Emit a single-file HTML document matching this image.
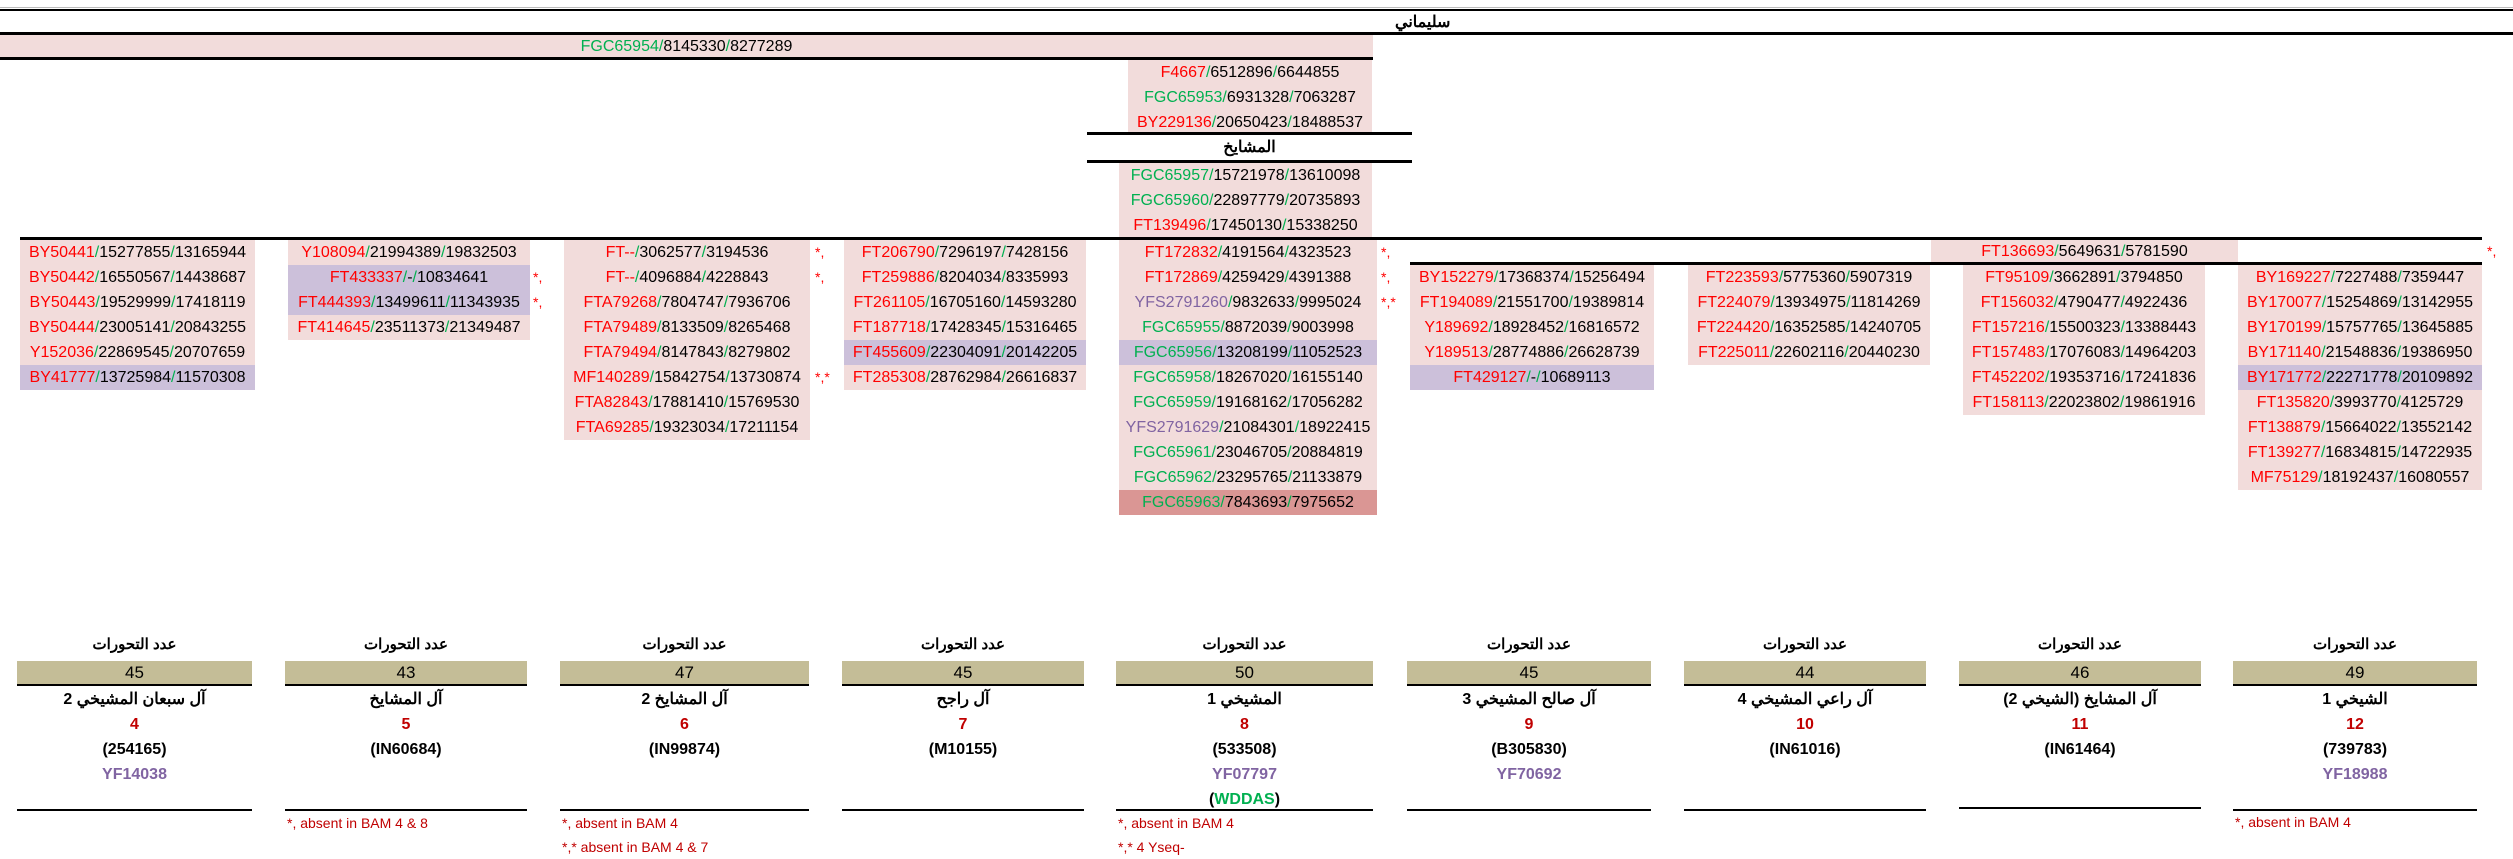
<!DOCTYPE html>
<html><head><meta charset="utf-8">
<style>
*{margin:0;padding:0;box-sizing:border-box}
body{width:2513px;height:859px;background:#fff;position:relative;overflow:hidden;font-family:"Liberation Sans","Noto Sans CJK SC",sans-serif;font-size:16px;color:#000}
.a{position:absolute}
.c{position:absolute;height:25px;line-height:25px;text-align:center;white-space:nowrap;background:#f2dcdb}
.l{background:#ccc0da}
.d{background:#da9694}
.r{color:#ff0000}.g{color:#00b050}.p{color:#8064a2}
.ln{position:absolute;background:#000}
.st{position:absolute;color:#ff0000;font-size:14px;line-height:25px;height:25px}
.lab{position:absolute;text-align:center;font-size:15px;font-weight:bold;line-height:20px;font-family:"Liberation Sans","Noto Sans CJK SC",sans-serif}
.band{position:absolute;height:25px;background:#c4bd97;border-bottom:2px solid #000;text-align:center;line-height:24px;font-size:17px}
.nm{position:absolute;text-align:center;font-weight:bold;font-size:16px;line-height:22px}
.fn{position:absolute;color:#c00000;font-size:14px;line-height:18px;white-space:nowrap}
</style></head><body>
<!-- top -->
<div class="ln" style="left:0;top:7px;width:2513px;height:1px;background:#bbb"></div>
<div class="ln" style="left:0;top:9px;width:2513px;height:2px"></div>
<div class="a" style="left:1395px;top:12px;font-size:16px;font-weight:bold" dir="rtl">سليماني</div>
<div class="ln" style="left:0;top:32px;width:2513px;height:3px"></div>
<div class="c" style="left:0;top:35px;width:1373px;height:23px;line-height:23px"><span class="g">FGC65954/</span>8145330<span class="g">/</span>8277289</div>
<div class="ln" style="left:0;top:57px;width:1373px;height:3px"></div>

<div class="c" style="left:1128px;top:60px;width:244px"><span class="r">F4667</span><span class="g">/</span>6512896<span class="g">/</span>6644855</div>
<div class="c" style="left:1128px;top:85px;width:244px"><span class="g">FGC65953/</span>6931328<span class="g">/</span>7063287</div>
<div class="c" style="left:1128px;top:110px;width:244px;height:23px"><span class="r">BY229136</span><span class="g">/</span>20650423<span class="g">/</span>18488537</div>
<div class="ln" style="left:1087px;top:132px;width:325px;height:3px"></div>
<div class="a" style="left:1087px;top:137px;width:325px;text-align:center;font-weight:bold;font-size:16px" dir="rtl">المشايخ</div>
<div class="ln" style="left:1087px;top:160px;width:325px;height:3px"></div>
<div class="c" style="left:1119px;top:163px;width:253px"><span class="g">FGC65957/</span>15721978<span class="g">/</span>13610098</div>
<div class="c" style="left:1119px;top:188px;width:253px"><span class="g">FGC65960/</span>22897779<span class="g">/</span>20735893</div>
<div class="c" style="left:1119px;top:213px;width:253px"><span class="r">FT139496</span><span class="g">/</span>17450130<span class="g">/</span>15338250</div>
<div class="ln" style="left:20px;top:237px;width:2462px;height:3px"></div>

<!-- col1 -->
<div class="c" style="left:20px;top:240px;width:235px"><span class="r">BY50441</span><span class="g">/</span>15277855<span class="g">/</span>13165944</div>
<div class="c" style="left:20px;top:265px;width:235px"><span class="r">BY50442</span><span class="g">/</span>16550567<span class="g">/</span>14438687</div>
<div class="c" style="left:20px;top:290px;width:235px"><span class="r">BY50443</span><span class="g">/</span>19529999<span class="g">/</span>17418119</div>
<div class="c" style="left:20px;top:315px;width:235px"><span class="r">BY50444</span><span class="g">/</span>23005141<span class="g">/</span>20843255</div>
<div class="c" style="left:20px;top:340px;width:235px"><span class="r">Y152036</span><span class="g">/</span>22869545<span class="g">/</span>20707659</div>
<div class="c l" style="left:20px;top:365px;width:235px"><span class="r">BY41777</span><span class="g">/</span>13725984<span class="g">/</span>11570308</div>
<!-- col2 -->
<div class="c" style="left:288px;top:240px;width:242px"><span class="r">Y108094</span><span class="g">/</span>21994389<span class="g">/</span>19832503</div>
<div class="c l" style="left:288px;top:265px;width:242px"><span class="r">FT433337</span><span class="g">/</span>-<span class="g">/</span>10834641</div>
<div class="c l" style="left:288px;top:290px;width:242px"><span class="r">FT444393</span><span class="g">/</span>13499611<span class="g">/</span>11343935</div>
<div class="c" style="left:288px;top:315px;width:242px"><span class="r">FT414645</span><span class="g">/</span>23511373<span class="g">/</span>21349487</div>
<div class="st" style="left:533px;top:265px">*,</div>
<div class="st" style="left:533px;top:290px">*,</div>
<!-- col3 -->
<div class="c" style="left:564px;top:240px;width:246px"><span class="r">FT--</span><span class="g">/</span>3062577<span class="g">/</span>3194536</div>
<div class="c" style="left:564px;top:265px;width:246px"><span class="r">FT--</span><span class="g">/</span>4096884<span class="g">/</span>4228843</div>
<div class="c" style="left:564px;top:290px;width:246px"><span class="r">FTA79268</span><span class="g">/</span>7804747<span class="g">/</span>7936706</div>
<div class="c" style="left:564px;top:315px;width:246px"><span class="r">FTA79489</span><span class="g">/</span>8133509<span class="g">/</span>8265468</div>
<div class="c" style="left:564px;top:340px;width:246px"><span class="r">FTA79494</span><span class="g">/</span>8147843<span class="g">/</span>8279802</div>
<div class="c" style="left:564px;top:365px;width:246px"><span class="r">MF140289</span><span class="g">/</span>15842754<span class="g">/</span>13730874</div>
<div class="c" style="left:564px;top:390px;width:246px"><span class="r">FTA82843</span><span class="g">/</span>17881410<span class="g">/</span>15769530</div>
<div class="c" style="left:564px;top:415px;width:246px"><span class="r">FTA69285</span><span class="g">/</span>19323034<span class="g">/</span>17211154</div>
<div class="st" style="left:815px;top:240px">*,</div>
<div class="st" style="left:815px;top:265px">*,</div>
<div class="st" style="left:815px;top:365px">*,*</div>
<!-- col4 -->
<div class="c" style="left:844px;top:240px;width:242px"><span class="r">FT206790</span><span class="g">/</span>7296197<span class="g">/</span>7428156</div>
<div class="c" style="left:844px;top:265px;width:242px"><span class="r">FT259886</span><span class="g">/</span>8204034<span class="g">/</span>8335993</div>
<div class="c" style="left:844px;top:290px;width:242px"><span class="r">FT261105</span><span class="g">/</span>16705160<span class="g">/</span>14593280</div>
<div class="c" style="left:844px;top:315px;width:242px"><span class="r">FT187718</span><span class="g">/</span>17428345<span class="g">/</span>15316465</div>
<div class="c l" style="left:844px;top:340px;width:242px"><span class="r">FT455609</span><span class="g">/</span>22304091<span class="g">/</span>20142205</div>
<div class="c" style="left:844px;top:365px;width:242px"><span class="r">FT285308</span><span class="g">/</span>28762984<span class="g">/</span>26616837</div>
<!-- col5 -->
<div class="c" style="left:1119px;top:240px;width:258px"><span class="r">FT172832</span><span class="g">/</span>4191564<span class="g">/</span>4323523</div>
<div class="c" style="left:1119px;top:265px;width:258px"><span class="r">FT172869</span><span class="g">/</span>4259429<span class="g">/</span>4391388</div>
<div class="c" style="left:1119px;top:290px;width:258px"><span class="p">YFS2791260</span><span class="g">/</span>9832633<span class="g">/</span>9995024</div>
<div class="c" style="left:1119px;top:315px;width:258px"><span class="g">FGC65955/</span>8872039<span class="g">/</span>9003998</div>
<div class="c l" style="left:1119px;top:340px;width:258px"><span class="g">FGC65956/</span>13208199<span class="g">/</span>11052523</div>
<div class="c" style="left:1119px;top:365px;width:258px"><span class="g">FGC65958/</span>18267020<span class="g">/</span>16155140</div>
<div class="c" style="left:1119px;top:390px;width:258px"><span class="g">FGC65959/</span>19168162<span class="g">/</span>17056282</div>
<div class="c" style="left:1119px;top:415px;width:258px"><span class="p">YFS2791629</span><span class="g">/</span>21084301<span class="g">/</span>18922415</div>
<div class="c" style="left:1119px;top:440px;width:258px"><span class="g">FGC65961/</span>23046705<span class="g">/</span>20884819</div>
<div class="c" style="left:1119px;top:465px;width:258px"><span class="g">FGC65962/</span>23295765<span class="g">/</span>21133879</div>
<div class="c d" style="left:1119px;top:490px;width:258px"><span class="g">FGC65963/</span>7843693<span class="g">/</span>7975652</div>
<div class="st" style="left:1381px;top:240px">*,</div>
<div class="st" style="left:1381px;top:265px">*,</div>
<div class="st" style="left:1381px;top:290px">*,*</div>
<!-- right block -->
<div class="c" style="left:1931px;top:240px;width:307px;height:23px;line-height:23px"><span class="r">FT136693</span><span class="g">/</span>5649631<span class="g">/</span>5781590</div>
<div class="st" style="left:2487px;top:239px">*,</div>
<div class="ln" style="left:1410px;top:262px;width:1072px;height:3px"></div>
<!-- col6 -->
<div class="c" style="left:1410px;top:265px;width:244px"><span class="r">BY152279</span><span class="g">/</span>17368374<span class="g">/</span>15256494</div>
<div class="c" style="left:1410px;top:290px;width:244px"><span class="r">FT194089</span><span class="g">/</span>21551700<span class="g">/</span>19389814</div>
<div class="c" style="left:1410px;top:315px;width:244px"><span class="r">Y189692</span><span class="g">/</span>18928452<span class="g">/</span>16816572</div>
<div class="c" style="left:1410px;top:340px;width:244px"><span class="r">Y189513</span><span class="g">/</span>28774886<span class="g">/</span>26628739</div>
<div class="c l" style="left:1410px;top:365px;width:244px"><span class="r">FT429127</span><span class="g">/</span>-<span class="g">/</span>10689113</div>
<!-- col7 -->
<div class="c" style="left:1688px;top:265px;width:242px"><span class="r">FT223593</span><span class="g">/</span>5775360<span class="g">/</span>5907319</div>
<div class="c" style="left:1688px;top:290px;width:242px"><span class="r">FT224079</span><span class="g">/</span>13934975<span class="g">/</span>11814269</div>
<div class="c" style="left:1688px;top:315px;width:242px"><span class="r">FT224420</span><span class="g">/</span>16352585<span class="g">/</span>14240705</div>
<div class="c" style="left:1688px;top:340px;width:242px"><span class="r">FT225011</span><span class="g">/</span>22602116<span class="g">/</span>20440230</div>
<!-- col8 -->
<div class="c" style="left:1963px;top:265px;width:242px"><span class="r">FT95109</span><span class="g">/</span>3662891<span class="g">/</span>3794850</div>
<div class="c" style="left:1963px;top:290px;width:242px"><span class="r">FT156032</span><span class="g">/</span>4790477<span class="g">/</span>4922436</div>
<div class="c" style="left:1963px;top:315px;width:242px"><span class="r">FT157216</span><span class="g">/</span>15500323<span class="g">/</span>13388443</div>
<div class="c" style="left:1963px;top:340px;width:242px"><span class="r">FT157483</span><span class="g">/</span>17076083<span class="g">/</span>14964203</div>
<div class="c" style="left:1963px;top:365px;width:242px"><span class="r">FT452202</span><span class="g">/</span>19353716<span class="g">/</span>17241836</div>
<div class="c" style="left:1963px;top:390px;width:242px"><span class="r">FT158113</span><span class="g">/</span>22023802<span class="g">/</span>19861916</div>
<!-- col9 -->
<div class="c" style="left:2238px;top:265px;width:244px"><span class="r">BY169227</span><span class="g">/</span>7227488<span class="g">/</span>7359447</div>
<div class="c" style="left:2238px;top:290px;width:244px"><span class="r">BY170077</span><span class="g">/</span>15254869<span class="g">/</span>13142955</div>
<div class="c" style="left:2238px;top:315px;width:244px"><span class="r">BY170199</span><span class="g">/</span>15757765<span class="g">/</span>13645885</div>
<div class="c" style="left:2238px;top:340px;width:244px"><span class="r">BY171140</span><span class="g">/</span>21548836<span class="g">/</span>19386950</div>
<div class="c l" style="left:2238px;top:365px;width:244px"><span class="r">BY171772</span><span class="g">/</span>22271778<span class="g">/</span>20109892</div>
<div class="c" style="left:2238px;top:390px;width:244px"><span class="r">FT135820</span><span class="g">/</span>3993770<span class="g">/</span>4125729</div>
<div class="c" style="left:2238px;top:415px;width:244px"><span class="r">FT138879</span><span class="g">/</span>15664022<span class="g">/</span>13552142</div>
<div class="c" style="left:2238px;top:440px;width:244px"><span class="r">FT139277</span><span class="g">/</span>16834815<span class="g">/</span>14722935</div>
<div class="c" style="left:2238px;top:465px;width:244px"><span class="r">MF75129</span><span class="g">/</span>18192437<span class="g">/</span>16080557</div>

<!-- bottom boxes -->
<div class="lab" style="left:17px;top:635px;width:235px" dir="rtl">عدد التحورات</div>
<div class="band" style="left:17px;top:661px;width:235px">45</div>
<div class="nm" style="left:17px;top:689px;width:235px" dir="rtl">آل سبعان المشيخي 2</div>
<div class="nm" style="left:17px;top:714px;width:235px;color:#c00000">4</div>
<div class="nm" style="left:17px;top:739px;width:235px">(254165)</div>
<div class="nm" style="left:17px;top:764px;width:235px;color:#8064a2">YF14038</div>
<div class="ln" style="left:17px;top:809px;width:235px;height:2px"></div>

<div class="lab" style="left:285px;top:635px;width:242px" dir="rtl">عدد التحورات</div>
<div class="band" style="left:285px;top:661px;width:242px">43</div>
<div class="nm" style="left:285px;top:689px;width:242px" dir="rtl">آل المشايخ</div>
<div class="nm" style="left:285px;top:714px;width:242px;color:#c00000">5</div>
<div class="nm" style="left:285px;top:739px;width:242px">(IN60684)</div>
<div class="ln" style="left:285px;top:809px;width:242px;height:2px"></div>
<div class="fn" style="left:287px;top:814px">*, absent in BAM 4 &amp; 8</div>

<div class="lab" style="left:560px;top:635px;width:249px" dir="rtl">عدد التحورات</div>
<div class="band" style="left:560px;top:661px;width:249px">47</div>
<div class="nm" style="left:560px;top:689px;width:249px" dir="rtl">آل المشايخ 2</div>
<div class="nm" style="left:560px;top:714px;width:249px;color:#c00000">6</div>
<div class="nm" style="left:560px;top:739px;width:249px">(IN99874)</div>
<div class="ln" style="left:560px;top:809px;width:249px;height:2px"></div>
<div class="fn" style="left:562px;top:814px">*, absent in BAM 4</div>
<div class="fn" style="left:562px;top:838px">*,* absent in BAM 4 &amp; 7</div>

<div class="lab" style="left:842px;top:635px;width:242px" dir="rtl">عدد التحورات</div>
<div class="band" style="left:842px;top:661px;width:242px">45</div>
<div class="nm" style="left:842px;top:689px;width:242px" dir="rtl">آل راجح</div>
<div class="nm" style="left:842px;top:714px;width:242px;color:#c00000">7</div>
<div class="nm" style="left:842px;top:739px;width:242px">(M10155)</div>
<div class="ln" style="left:842px;top:809px;width:242px;height:2px"></div>

<div class="lab" style="left:1116px;top:635px;width:257px" dir="rtl">عدد التحورات</div>
<div class="band" style="left:1116px;top:661px;width:257px">50</div>
<div class="nm" style="left:1116px;top:689px;width:257px" dir="rtl">المشيخي 1</div>
<div class="nm" style="left:1116px;top:714px;width:257px;color:#c00000">8</div>
<div class="nm" style="left:1116px;top:739px;width:257px">(533508)</div>
<div class="nm" style="left:1116px;top:764px;width:257px;color:#8064a2">YF07797</div>
<div class="nm" style="left:1116px;top:789px;width:257px">(<span style="color:#00b050">WDDAS</span>)</div>
<div class="ln" style="left:1116px;top:809px;width:257px;height:2px"></div>
<div class="fn" style="left:1118px;top:814px">*, absent in BAM 4</div>
<div class="fn" style="left:1118px;top:838px">*,* 4 Yseq-</div>

<div class="lab" style="left:1407px;top:635px;width:244px" dir="rtl">عدد التحورات</div>
<div class="band" style="left:1407px;top:661px;width:244px">45</div>
<div class="nm" style="left:1407px;top:689px;width:244px" dir="rtl">آل صالح المشيخي 3</div>
<div class="nm" style="left:1407px;top:714px;width:244px;color:#c00000">9</div>
<div class="nm" style="left:1407px;top:739px;width:244px">(B305830)</div>
<div class="nm" style="left:1407px;top:764px;width:244px;color:#8064a2">YF70692</div>
<div class="ln" style="left:1407px;top:809px;width:244px;height:2px"></div>

<div class="lab" style="left:1684px;top:635px;width:242px" dir="rtl">عدد التحورات</div>
<div class="band" style="left:1684px;top:661px;width:242px">44</div>
<div class="nm" style="left:1684px;top:689px;width:242px" dir="rtl">آل راعي المشيخي 4</div>
<div class="nm" style="left:1684px;top:714px;width:242px;color:#c00000">10</div>
<div class="nm" style="left:1684px;top:739px;width:242px">(IN61016)</div>
<div class="ln" style="left:1684px;top:809px;width:242px;height:2px"></div>

<div class="lab" style="left:1959px;top:635px;width:242px" dir="rtl">عدد التحورات</div>
<div class="band" style="left:1959px;top:661px;width:242px">46</div>
<div class="nm" style="left:1959px;top:689px;width:242px" dir="rtl">آل المشايخ (الشيخي 2)</div>
<div class="nm" style="left:1959px;top:714px;width:242px;color:#c00000">11</div>
<div class="nm" style="left:1959px;top:739px;width:242px">(IN61464)</div>
<div class="ln" style="left:1959px;top:807px;width:242px;height:2px"></div>

<div class="lab" style="left:2233px;top:635px;width:244px" dir="rtl">عدد التحورات</div>
<div class="band" style="left:2233px;top:661px;width:244px">49</div>
<div class="nm" style="left:2233px;top:689px;width:244px" dir="rtl">الشيخي 1</div>
<div class="nm" style="left:2233px;top:714px;width:244px;color:#c00000">12</div>
<div class="nm" style="left:2233px;top:739px;width:244px">(739783)</div>
<div class="nm" style="left:2233px;top:764px;width:244px;color:#8064a2">YF18988</div>
<div class="ln" style="left:2233px;top:809px;width:244px;height:2px"></div>
<div class="fn" style="left:2235px;top:813px">*, absent in BAM 4</div>
</body></html>
